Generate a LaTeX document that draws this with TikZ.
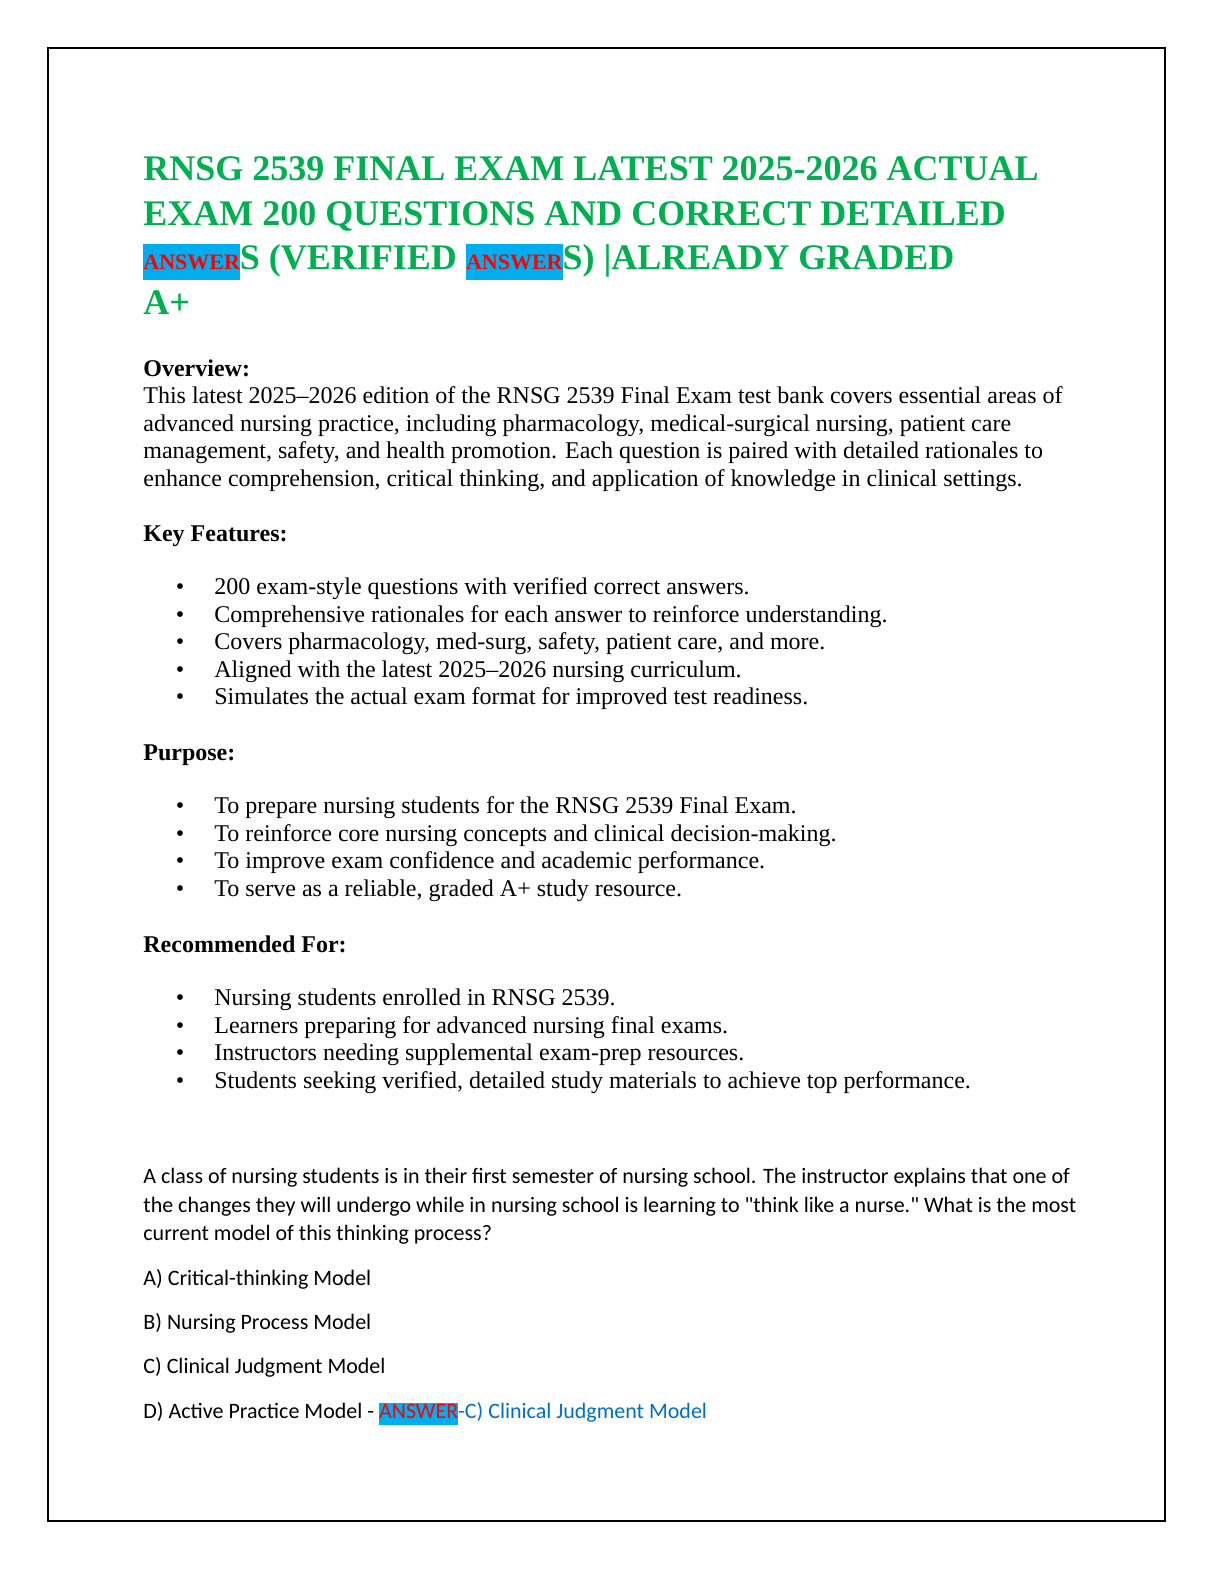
\documentclass[tikz,border=0pt]{standalone}
\usepackage{fontspec}
\setmainfont{Liberation Serif}
\newfontfamily\qfont{Carlito}
\definecolor{titlegreen}{RGB}{0,176,80}
\definecolor{ansblue}{RGB}{0,112,192}
\newcommand{\hlans}[1]{{\setlength\fboxsep{0pt}\colorbox{cyan}{\strut\color{red}#1}}}
\begin{document}
\begin{tikzpicture}[x=1pt,y=1pt,
ttl/.style={anchor=base west, inner sep=0pt, text=titlegreen, font=\fontsize{18}{18}\selectfont\bfseries},
head/.style={anchor=base west, inner sep=0pt, font=\fontsize{12}{12}\selectfont\bfseries},
txt/.style={anchor=base west, inner sep=0pt, font=\fontsize{12}{12}\selectfont},
dot/.style={anchor=base, inner sep=0pt, font=\fontsize{12}{12}\selectfont},
qtxt/.style={anchor=base west, inner sep=0pt, font=\qfont\fontsize{11}{11}\selectfont}
]
  \useasboundingbox (0,0) rectangle (612,-792);
  \draw[line width=0.8pt] (24,-24) rectangle (582.5,-760.5);

  % title
  \node[ttl] (t1) at (71.5,-90) {RNSG 2539 FINAL EXAM LATEST 2025-2026 ACTUAL};
  \node[ttl] (t2) at (71.5,-112.5) {EXAM 200 QUESTIONS AND CORRECT DETAILED};
  \node[ttl] (t3) at (71.5,-134.5) {\hlans{\fontsize{11}{11}\selectfont ANSWER}S (VERIFIED \hlans{\fontsize{11}{11}\selectfont ANSWER}S) |ALREADY GRADED};
  \node[ttl] (t4) at (71.5,-157) {A+};

  % overview
  \node[head] (ov) at (71.5,-188) {Overview:};
  \node[txt] (o1) at (71.5,-201.5) {This latest 2025--2026 edition of the RNSG 2539 Final Exam test bank covers essential areas of};
  \node[txt] (o2) at (71.5,-215.5) {advanced nursing practice, including pharmacology, medical-surgical nursing, patient care};
  \node[txt] (o3) at (71.5,-229) {management, safety, and health promotion. Each question is paired with detailed rationales to};
  \node[txt] (o4) at (71.5,-243) {enhance comprehension, critical thinking, and application of knowledge in clinical settings.};

  % key features
  \node[head] (kf) at (71.5,-270.5) {Key Features:};
  \foreach \y/\s [count=\i] in {-297/{200 exam-style questions with verified correct answers.},
    -311/{Comprehensive rationales for each answer to reinforce understanding.},
    -324.5/{Covers pharmacology, med-surg, safety, patient care, and more.},
    -338.5/{Aligned with the latest 2025--2026 nursing curriculum.},
    -352/{Simulates the actual exam format for improved test readiness.}}
  {
    \node[dot] (kb\i) at (90,\y) {\textbullet};
    \node[txt] (k\i) at (107,\y) {\s};
  }

  % purpose
  \node[head] (pu) at (71.5,-380) {Purpose:};
  \foreach \y/\s [count=\i] in {-406.5/{To prepare nursing students for the RNSG 2539 Final Exam.},
    -420.5/{To reinforce core nursing concepts and clinical decision-making.},
    -434/{To improve exam confidence and academic performance.},
    -448/{To serve as a reliable, graded A+ study resource.}}
  {
    \node[dot] (pb\i) at (90,\y) {\textbullet};
    \node[txt] (p\i) at (107,\y) {\s};
  }

  % recommended
  \node[head] (rf) at (71.5,-476) {Recommended For:};
  \foreach \y/\s [count=\i] in {-502.5/{Nursing students enrolled in RNSG 2539.},
    -516.5/{Learners preparing for advanced nursing final exams.},
    -530/{Instructors needing supplemental exam-prep resources.},
    -544/{Students seeking verified, detailed study materials to achieve top performance.}}
  {
    \node[dot] (rb\i) at (90,\y) {\textbullet};
    \node[txt] (r\i) at (107,\y) {\s};
  }

  % question
  \node[qtxt] (q1) at (71.5,-591.5) {A class of nursing students is in their first semester of nursing school. The instructor explains that one of};
  \node[qtxt] (q2) at (71.5,-606) {the changes they will undergo while in nursing school is learning to "think like a nurse." What is the most};
  \node[qtxt] (q3) at (71.5,-620) {current model of this thinking process?};
  \node[qtxt] (qa) at (71.5,-642.5) {A) Critical-thinking Model};
  \node[qtxt] (qb) at (71.5,-664.5) {B) Nursing Process Model};
  \node[qtxt] (qc) at (71.5,-686.5) {C) Clinical Judgment Model};
  \node[qtxt] (qd) at (71.5,-709) {D) Active Practice Model - \hlans{ANSWER}\textcolor{ansblue}{-C) Clinical Judgment Model}};
\end{tikzpicture}
\end{document}
